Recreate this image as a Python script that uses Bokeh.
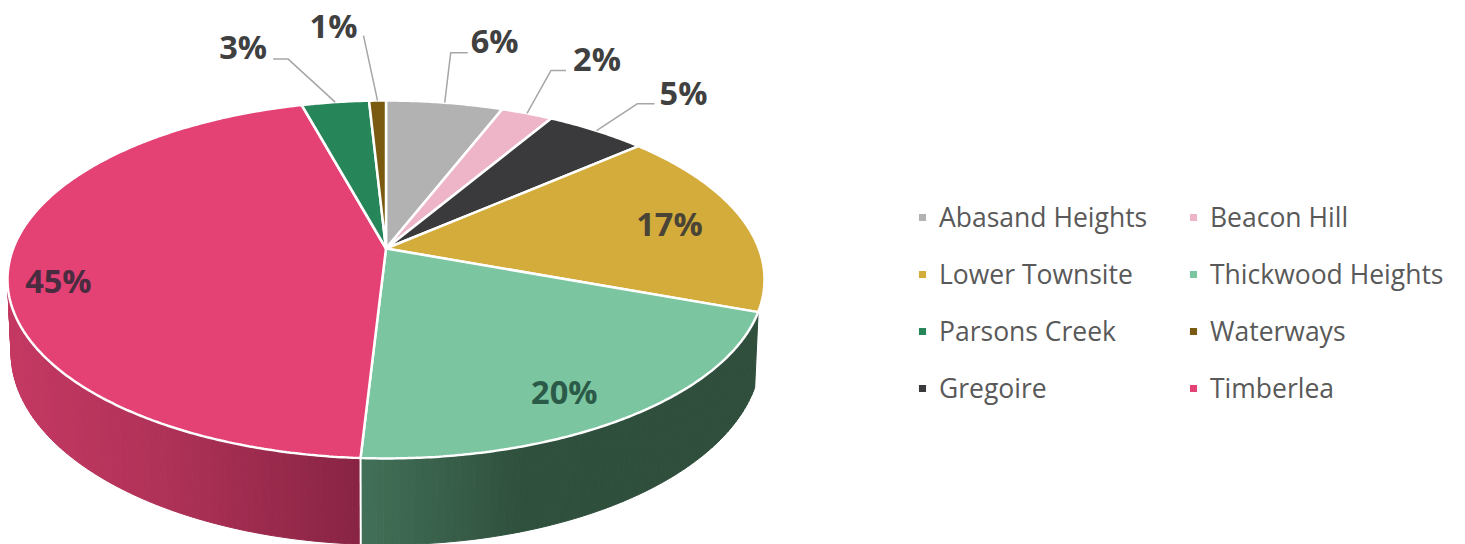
from math import cos, sin, pi
from bokeh.plotting import figure, ColumnDataSource
from bokeh.models import Range1d, Legend, LegendItem
from bokeh.core.properties import value
from bokeh.embed import file_html
from bokeh.resources import INLINE

# ---- data, clockwise from twelve o'clock ----
slices = ["Abasand Heights", "Beacon Hill", "Gregoire", "Lower Townsite",
          "Thickwood Heights", "Timberlea", "Parsons Creek", "Waterways"]
shares = [5.9, 2.6, 5.1, 17.0, 20.3, 44.85, 3.4, 0.85]
labels = ["6%", "2%", "5%", "17%", "20%", "45%", "3%", "1%"]
colors = ["#b2b2b2", "#eeb4c8", "#3a3a3c", "#d4ac3c",
          "#7bc5a0", "#e44175", "#27855a", "#7a5a10"]
legend_order = ["Abasand Heights", "Beacon Hill", "Lower Townsite", "Thickwood Heights",
                "Parsons Creek", "Waterways", "Gregoire", "Timberlea"]

# ---- label styling: offsets (px) from the rim point at each slice's mid angle ----
label_dx = [50, 70, 87, -72, -61, 50, -92, -44]
label_dy = [-62, -55, -38, 6, -27, 13, -56, -75]
label_col = ["#404040", "#404040", "#404040", "#4a4436", "#2b5a48", "#4a2c40", "#404040", "#404040"]
elbow_dx = [6, 24, 41, None, None, None, -47, -14]
elbow_dy = [-50, -43, -27, None, None, None, -43, -65]
end_dx = [23, 39, 58, None, None, None, -62, -14]

# ---- tilted-disc geometry (screen px) ----
CX, TILT = 385.5, -0.173
TOP = dict(a=372.8, b=173.6, c=248.0)
LOW = dict(a=369.3, b=186.2, c=319.0)


def project(deg, d):
    t = deg * pi / 180
    u, v = sin(t), -cos(t)
    den = 1 + TILT * v
    return CX + d["a"] * u / den, d["c"] + d["b"] * v / den


def lerp_color(stops, x):
    for (x0, c0), (x1, c1) in zip(stops, stops[1:]):
        if x <= x1:
            f = max(0.0, (x - x0) / (x1 - x0))
            return "#%02x%02x%02x" % tuple(round(p + (q - p) * f) for p, q in zip(c0, c1))
    return "#%02x%02x%02x" % stops[-1][1]


bounds = [0.0]
for s in shares:
    bounds.append(bounds[-1] + s)
total = bounds[-1]
deg = [b / total * 360 for b in bounds]

p = figure(width=1465, height=544, x_range=Range1d(0, 1465), y_range=Range1d(544, 0),
           output_backend="svg", toolbar_location=None, x_axis_location=None,
           y_axis_location=None, min_border=0, outline_line_color=None,
           background_fill_color="white", border_fill_color="white")
p.grid.visible = False

# ---- side wall, shaded in narrow strips ----
wall_stops = {
    "Thickwood Heights": [(360, (66, 112, 88)), (520, (47, 80, 61)), (760, (47, 78, 60))],
    "Timberlea": [(10, (196, 56, 98)), (160, (176, 50, 88)), (360, (136, 36, 68))],
}
STRIP = 1.0
xs, ys, cs = [], [], []
for name, last in (("Timberlea", 292.0), ("Thickwood Heights", None)):
    i = slices.index(name)
    a0, a1 = deg[i], last if last else deg[i + 1]
    n = int((a1 - a0) / STRIP) + 1
    for k in range(n):
        t0 = a0 + (a1 - a0) * k / n
        t1 = a0 + (a1 - a0) * (k + 1) / n
        pts = [project(t0, TOP), project(t1, TOP), project(t1, LOW), project(t0, LOW)]
        xs.append([q[0] for q in pts])
        ys.append([q[1] for q in pts])
        cs.append(lerp_color(wall_stops[name], sum(q[0] for q in pts) / 4))
p.patches(xs, ys, fill_color=cs, line_color=cs, line_width=1)

# white seam on the wall between the two visible slices
seam = deg[slices.index("Timberlea")]
p.line([project(seam, TOP)[0], project(seam, LOW)[0]],
       [project(seam, TOP)[1], project(seam, LOW)[1]], line_color="white", line_width=2)

# ---- top surface ----
renderers = {}
for i, name in enumerate(slices):
    n = max(3, int(deg[i + 1] - deg[i]) * 2)
    rim = [project(deg[i] + (deg[i + 1] - deg[i]) * k / n, TOP) for k in range(n + 1)]
    px = [CX] + [q[0] for q in rim]
    py = [TOP["c"]] + [q[1] for q in rim]
    renderers[name] = p.patch(px, py, fill_color=colors[i], line_color="white", line_width=2.5)

# ---- leaders and labels ----
mx, my = [], []
for i in range(len(slices)):
    mx.append(project((deg[i] + deg[i + 1]) / 2, TOP)[0])
    my.append(project((deg[i] + deg[i + 1]) / 2, TOP)[1])

for i in range(len(slices)):
    if elbow_dx[i] is not None:
        p.line([mx[i], mx[i] + elbow_dx[i], mx[i] + end_dx[i]],
               [my[i], my[i] + elbow_dy[i], my[i] + elbow_dy[i]],
               line_color="#a6a6a6", line_width=1.5)

src = ColumnDataSource(dict(
    x=[mx[i] + label_dx[i] for i in range(len(slices))],
    y=[my[i] + label_dy[i] for i in range(len(slices))],
    t=labels, c=label_col))
p.text("x", "y", text="t", source=src, text_color="c", text_font=value("Open Sans"),
       text_font_style="bold", text_font_size="32.5px", text_align="center",
       text_baseline="middle")

# ---- legend ----
legend = Legend(
    items=[LegendItem(label=n, renderers=[renderers[n]]) for n in legend_order],
    orientation="horizontal", ncols=2, location=(916, 128),
    background_fill_alpha=0, border_line_color=None, padding=0, margin=0, spacing=0,
    glyph_width=12, glyph_height=12, label_standoff=11, label_width=248, label_height=57,
    label_text_font="Open Sans", label_text_font_size="26.5px", label_text_color="#595959",
    label_text_baseline="middle")
p.add_layout(legend, "center")

open("out.html", "w").write(file_html(p, INLINE))
